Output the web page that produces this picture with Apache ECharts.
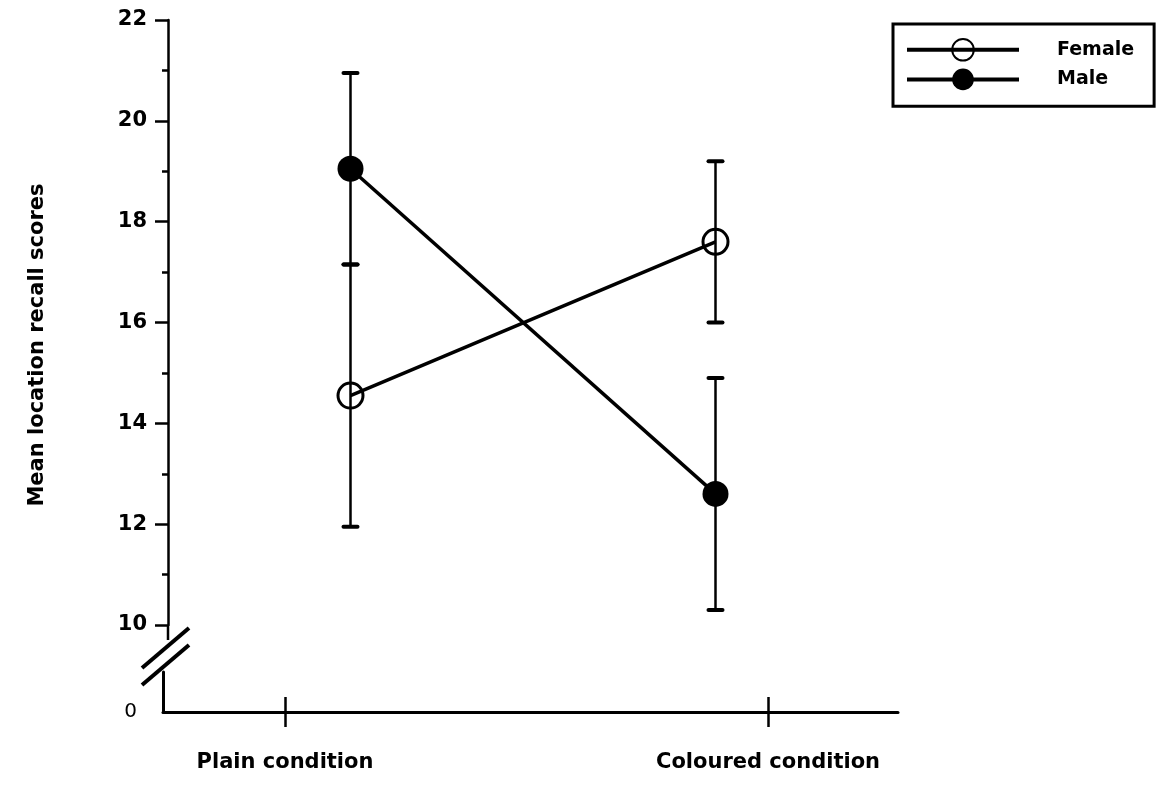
<!DOCTYPE html>
<html>
<head>
<meta charset="utf-8">
<script src="https://cdn.jsdelivr.net/npm/echarts@6/dist/echarts.min.js"></script>
<style>
html,body{margin:0;padding:0;background:#fff;}
#chart{width:1159px;height:786px;}
</style>
</head>
<body>
<div id="chart"></div>
<script>
// ---- data ----
const categories = ['Plain condition', 'Coloured condition'];
const seriesNames = ['Female', 'Male'];
const femaleMeans = [14.55, 17.6];
const maleMeans = [19.05, 12.6];
const femaleLow = [11.95, 16.0];
const femaleHigh = [17.15, 19.2];
const maleLow = [17.15, 10.3];
const maleHigh = [20.95, 14.9];
const yMin = 10, yMax = 22, yStep = 2;
const zeroLabel = '0';
const yTitle = 'Mean location recall scores';

// ---- layout ----
const FONT = 'DejaVu Sans';
const gridA = {left: 168, top: 20, width: 730, height: 605};
const gridB = {left: 163, top: 672, width: 735, height: 40};
const tickPx = [285, 768]; // category tick positions on bottom axis
const pxPerUnit = tickPx[1] - tickPx[0];
const bMin = -(tickPx[0] - gridB.left) / pxPerUnit;
const bMax = 1 + (gridB.left + gridB.width - tickPx[1]) / pxPerUnit;

const chart = echarts.init(document.getElementById('chart'), null, {renderer: 'canvas'});

function errData(lo, hi) {
  return lo.map((v, i) => [i, v, hi[i]]);
}
function errRender(params, api) {
  const x = api.value(0), lo = api.value(1), hi = api.value(2);
  const pLo = api.coord([x, lo]);
  const pHi = api.coord([x, hi]);
  const w = 7;
  return {
    type: 'group',
    children: [
      {type: 'line', shape: {x1: pLo[0], y1: pLo[1], x2: pHi[0], y2: pHi[1]}, style: {stroke: '#000', lineWidth: 2.5}},
      {type: 'line', shape: {x1: pLo[0] - w, y1: pLo[1], x2: pLo[0] + w, y2: pLo[1]}, style: {stroke: '#000', lineWidth: 4, lineCap: 'round'}},
      {type: 'line', shape: {x1: pHi[0] - w, y1: pHi[1], x2: pHi[0] + w, y2: pHi[1]}, style: {stroke: '#000', lineWidth: 4, lineCap: 'round'}}
    ]
  };
}

const axisX = gridA.left;
const option = {
  animation: false,
  backgroundColor: '#fff',
  textStyle: {fontFamily: FONT, color: '#000'},
  grid: [
    Object.assign({}, gridA),
    Object.assign({}, gridB),
    Object.assign({}, gridB)
  ],
  xAxis: [
    {gridIndex: 0, type: 'category', data: categories, boundaryGap: true, show: false},
    {gridIndex: 1, type: 'value', min: bMin, max: bMax, position: 'bottom',
      axisLine: {show: true, onZero: false, lineStyle: {color: '#000', width: 3}},
      axisTick: {show: true, inside: false, length: 15, customValues: [0, 1], lineStyle: {color: '#000', width: 2.5}},
      axisLabel: {show: true, customValues: [0, 1], margin: 40, fontSize: 21, fontWeight: 'bold', color: '#000', fontFamily: FONT,
        formatter: v => categories[Math.round(v)]},
      splitLine: {show: false}},
    {gridIndex: 2, type: 'value', min: bMin, max: bMax, position: 'bottom',
      axisLine: {show: false, onZero: false},
      axisTick: {show: true, inside: true, length: 15, customValues: [0, 1], lineStyle: {color: '#000', width: 2.5}},
      axisLabel: {show: false},
      splitLine: {show: false}}
  ],
  yAxis: [
    {gridIndex: 0, type: 'value', min: yMin, max: yMax, interval: yStep,
      axisLine: {show: true, onZero: false, lineStyle: {color: '#000', width: 2.5}},
      axisTick: {show: true, length: 13, lineStyle: {color: '#000', width: 2.5}},
      minorTick: {show: true, splitNumber: 2, length: 6, lineStyle: {color: '#000', width: 2.5}},
      axisLabel: {margin: 21, fontSize: 21, fontWeight: 'bold', color: '#000', fontFamily: FONT},
      splitLine: {show: false}},
    {gridIndex: 1, type: 'value', min: 0, max: 1, interval: 1,
      axisLine: {show: true, onZero: false, lineStyle: {color: '#000', width: 3}},
      axisTick: {show: false},
      axisLabel: {margin: 26, fontSize: 20, color: '#000', fontFamily: FONT,
        formatter: v => (v === 0 ? zeroLabel : '')},
      splitLine: {show: false}},
    {gridIndex: 2, type: 'value', min: 0, max: 1, show: false, axisLine: {onZero: false}}
  ],
  legend: {
    data: seriesNames,
    orient: 'vertical',
    left: 893, top: 24,
    itemWidth: 112, itemHeight: 27, itemGap: 7,
    padding: [14, 20, 16, 12],
    borderColor: '#000', borderWidth: 3,
    lineStyle: {width: 4, color: '#000'},
    textStyle: {fontSize: 19, fontWeight: 'bold', color: '#000', fontFamily: FONT, padding: [0, 0, 0, 33]}
  },
  series: [
    {type: 'custom', name: 'errF', xAxisIndex: 0, yAxisIndex: 0, data: errData(femaleLow, femaleHigh), renderItem: errRender, z: 1, silent: true},
    {type: 'custom', name: 'errM', xAxisIndex: 0, yAxisIndex: 0, data: errData(maleLow, maleHigh), renderItem: errRender, z: 1, silent: true},
    {type: 'line', name: seriesNames[0], xAxisIndex: 0, yAxisIndex: 0, data: femaleMeans, z: 3,
      symbol: 'circle', symbolSize: 25,
      itemStyle: {color: 'rgba(0,0,0,0)', borderColor: '#000', borderWidth: 3},
      lineStyle: {color: '#000', width: 3.5}},
    {type: 'line', name: seriesNames[1], xAxisIndex: 0, yAxisIndex: 0, data: maleMeans, z: 3,
      symbol: 'circle', symbolSize: 26,
      itemStyle: {color: '#000', borderColor: '#000', borderWidth: 0},
      lineStyle: {color: '#000', width: 3.5}}
  ],
  graphic: [
    {type: 'line', shape: {x1: axisX - 26, y1: 668, x2: axisX + 21, y2: 628}, style: {stroke: '#000', lineWidth: 4}},
    {type: 'line', shape: {x1: axisX - 26, y1: 685, x2: axisX + 21, y2: 645}, style: {stroke: '#000', lineWidth: 4}},
    {type: 'line', shape: {x1: axisX, y1: gridA.top + gridA.height, x2: axisX, y2: 640}, style: {stroke: '#000', lineWidth: 2.5}},
    {type: 'text', x: 38, y: 345, rotation: Math.PI / 2,
      style: {text: yTitle, fontSize: 21, fontWeight: 'bold', fontFamily: FONT, fill: '#000', textAlign: 'center', textVerticalAlign: 'middle'}}
  ]
};
chart.setOption(option);
</script>
</body>
</html>
